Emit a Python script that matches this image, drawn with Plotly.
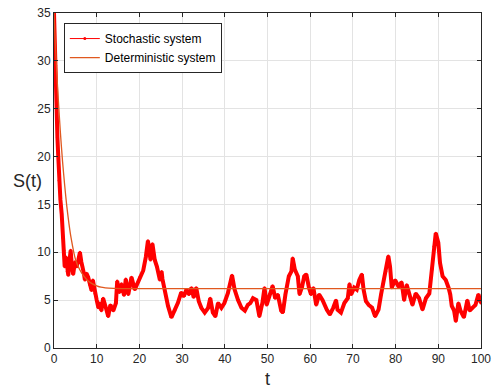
import plotly.graph_objects as go

# Stochastic system path
t_stoch = [0, 0.2, 0.4, 0.6, 0.8, 1.0, 1.2, 1.5, 1.8, 2.1, 2.3, 2.5, 2.8, 3.1, 3.35, 3.6, 3.9, 4.2, 4.5, 4.9,
           5.3, 5.7, 6.07, 6.4, 6.7, 7.0, 7.24, 7.6, 8.0, 8.4, 8.8, 9.1, 9.6, 10.0, 10.4, 10.7, 11.1, 11.5, 12.15, 12.7,
           13.2, 13.9, 14.5, 14.8, 15.3, 15.8, 16.4, 16.8, 17.4, 18.15, 18.9, 19.5, 20.1, 20.9, 21.5, 22.0, 22.6, 23.05, 23.6, 24.1,
           24.8, 25.2, 25.4, 25.9, 26.7, 27.5, 28.3, 29.0, 29.8, 30.4, 31.0, 31.6, 32.2, 32.7, 33.3, 33.9, 34.5, 35.3, 36.1, 36.6,
           37.2, 37.8, 38.4, 39.2, 39.9, 40.7, 41.7, 42.3, 43.1, 43.9, 44.7, 45.4, 46.0, 46.6, 47.4, 48.1, 48.8, 49.3, 49.8, 50.5,
           51.2, 51.8, 52.4, 53.2, 53.6, 54.2, 55.0, 55.6, 55.9, 56.4, 57.1, 57.5, 58.1, 58.6, 59.1, 59.7, 60.2, 60.75, 61.4, 62.1,
           62.9, 63.9, 64.6, 65.4, 66.05, 66.4, 67.2, 68.0, 68.8, 69.2, 69.6, 70.3, 70.9, 71.5, 72.1, 72.5, 73.05, 73.7, 74.5, 75.2,
           76.0, 76.6, 77.1, 77.7, 78.3, 78.7, 79.1, 79.9, 80.7, 81.4, 82.0, 82.6, 83.2, 83.95, 84.7, 85.5, 86.3, 87.1, 87.9, 88.5,
           89.0, 89.4, 90.0, 90.4, 91.0, 91.75, 92.4, 92.8, 93.15, 93.7, 94.1, 94.7, 95.2, 96.0, 96.8, 97.35, 98.0, 98.7, 99.4, 100]
s_stoch = [35, 31, 29.5, 26, 22, 20, 17.5, 15.5, 14, 11.5, 10.2, 8.5, 9.5, 8.0, 7.6, 9.0, 10.2, 8.5, 7.7, 9.0,
           8.5, 9.2, 10.0, 9.0, 8.5, 7.8, 7.1, 7.8, 7.4, 6.6, 6.0, 7.1, 5.7, 5.0, 4.2, 4.7, 3.9, 5.2, 4.2, 3.3,
           4.5, 3.9, 4.7, 7.0, 5.8, 6.7, 5.5, 7.2, 5.6, 7.4, 6.1, 6.7, 7.4, 8.1, 9.5, 11.2, 9.2, 10.9, 9.2, 8.5,
           7.1, 8.0, 7.2, 6.1, 4.4, 3.2, 3.9, 4.7, 5.8, 5.4, 6.1, 5.6, 6.3, 5.3, 6.3, 4.9, 4.2, 3.7, 4.2, 5.2,
           3.7, 3.3, 4.7, 4.2, 4.7, 5.7, 7.6, 6.1, 5.0, 4.2, 3.9, 4.5, 4.7, 5.2, 5.0, 3.3, 4.7, 6.3, 4.5, 5.6,
           6.5, 5.2, 5.6, 3.9, 3.7, 5.6, 7.5, 8.0, 9.4, 8.2, 7.5, 5.6, 6.4, 7.5, 7.7, 6.3, 5.6, 6.3, 4.5, 5.6,
           5.0, 4.0, 3.5, 4.2, 5.0, 4.0, 3.7, 4.7, 5.2, 6.7, 5.6, 6.3, 6.1, 7.1, 7.7, 6.1, 4.9, 4.5, 4.2, 3.3,
           4.0, 5.6, 6.7, 8.0, 9.6, 8.5, 6.3, 7.1, 6.4, 6.9, 5.0, 6.6, 5.6, 4.5, 5.7, 5.2, 4.0, 5.2, 5.7, 8.2,
           10.6, 12.0, 11.0, 8.9, 7.5, 7.1, 6.3, 5.6, 4.4, 3.9, 2.8, 4.7, 3.9, 3.2, 5.0, 3.9, 4.2, 4.5, 5.6, 4.7]
assert len(t_stoch) == len(s_stoch)

# Deterministic system
t_det = [0, 0.5, 1, 1.5, 2, 2.5, 3, 3.5, 4, 5, 6, 7, 8, 9, 10, 11, 12, 14, 16, 20, 100]
s_det = [35, 30, 26, 22.5, 19.5, 17, 14.8, 13, 11.5, 9.3, 8.2, 7.5, 7.0, 6.7, 6.5, 6.35, 6.28, 6.22, 6.2, 6.2, 6.2]

x_ticks = list(range(0, 101, 10))
y_ticks = list(range(0, 36, 5))

FONT = "Liberation Sans, Arial, sans-serif"
RED = "#FF0000"
ORANGE = "#E0581F"
INK = "#262626"

fig = go.Figure()
fig.add_trace(go.Scatter(
    x=t_stoch, y=s_stoch, mode="lines+markers", name="Stochastic system",
    line=dict(color=RED, width=4, shape="linear"),
    marker=dict(color=RED, size=3),
    showlegend=False,
))
fig.add_trace(go.Scatter(
    x=t_det, y=s_det, mode="lines", name="Deterministic system",
    line=dict(color=ORANGE, width=1.3, shape="spline", smoothing=0.6),
    showlegend=False,
))
# legend entries (thin samples as in the reference legend)
fig.add_trace(go.Scatter(
    x=[None], y=[None], mode="lines+markers", name="Stochastic system",
    line=dict(color=RED, width=1), marker=dict(color=RED, size=3),
))
fig.add_trace(go.Scatter(
    x=[None], y=[None], mode="lines", name="Deterministic system",
    line=dict(color=ORANGE, width=1.3),
))

axis_common = dict(
    showline=True, linecolor=INK, linewidth=1, mirror="ticks",
    ticks="inside", ticklen=4, tickcolor=INK,
    showgrid=True, gridcolor="#E3E3E3", gridwidth=1, zeroline=False,
    tickfont=dict(family=FONT, size=12, color=INK),
    automargin=False,
)

fig.update_xaxes(range=[0, 100], tickvals=x_ticks, **axis_common)
fig.update_yaxes(range=[0, 35], tickvals=y_ticks, **axis_common)

fig.add_annotation(text="S(t)", xref="paper", yref="paper", x=-0.063, y=0.5,
                   xanchor="center", yanchor="middle", showarrow=False,
                   font=dict(family=FONT, size=18, color=INK))
fig.add_annotation(text="t", xref="paper", yref="paper", x=0.5, y=-0.094,
                   xanchor="center", yanchor="middle", showarrow=False,
                   font=dict(family=FONT, size=18, color=INK))

fig.update_layout(
    width=494, height=391,
    margin=dict(l=54, r=13, t=13, b=43),
    paper_bgcolor="white", plot_bgcolor="white",
    showlegend=True,
    legend=dict(
        x=0.023, y=0.97, xanchor="left", yanchor="top",
        bgcolor="white", bordercolor=INK, borderwidth=1,
        font=dict(family=FONT, size=12, color="#000000"),
        tracegroupgap=0, itemwidth=30,
    ),
)

fig.write_html("out.html")
